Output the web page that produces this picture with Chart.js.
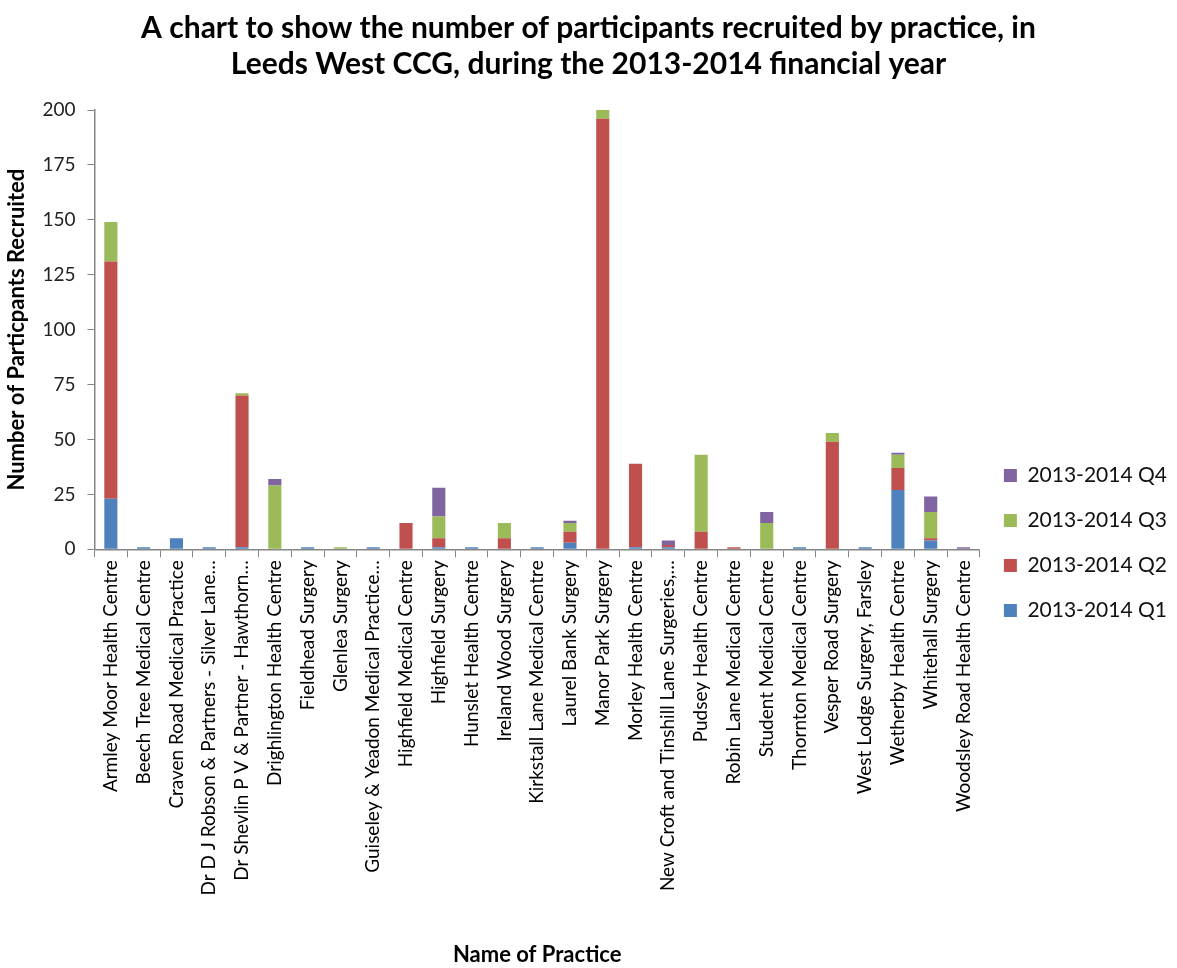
<!DOCTYPE html>
<html>
<head>
<meta charset="utf-8">
<script src="https://cdn.jsdelivr.net/npm/chart.js@4.4.0/dist/chart.umd.min.js"></script>
<style>
  html, body { margin: 0; padding: 0; background: #fff; }
  #wrap { width: 1177px; height: 968px; }
</style>
</head>
<body>
<div id="wrap"><canvas id="myChart"></canvas></div>
<script>
var practices = [
  'Armley Moor Health Centre', 'Beech Tree Medical Centre', 'Craven Road Medical Practice',
  'Dr D J Robson & Partners - Silver Lane…', 'Dr Shevlin P V & Partner - Hawthorn…',
  'Drighlington Health Centre', 'Fieldhead Surgery', 'Glenlea Surgery',
  'Guiseley & Yeadon Medical Practice…', 'Highfield Medical Centre', 'Highfield Surgery',
  'Hunslet Health Centre', 'Ireland Wood Surgery', 'Kirkstall Lane Medical Centre',
  'Laurel Bank Surgery', 'Manor Park Surgery', 'Morley Health Centre',
  'New Croft and Tinshill Lane Surgeries,…', 'Pudsey Health Centre', 'Robin Lane Medical Centre',
  'Student Medical Centre', 'Thornton Medical Centre', 'Vesper Road Surgery',
  'West Lodge Surgery, Farsley', 'Wetherby Health Centre', 'Whitehall Surgery',
  'Woodsley Road Health Centre'
];
var q1 = [23, 1, 5, 1, 1, 0, 1, 0, 1, 0, 1, 1, 0, 1, 3, 0, 1, 1, 0, 0, 0, 1, 0, 1, 27, 4, 0];
var q2 = [108, 0, 0, 0, 69, 0, 0, 0, 0, 12, 4, 0, 5, 0, 5, 196, 38, 1, 8, 1, 0, 0, 49, 0, 10, 1, 0];
var q3 = [18, 0, 0, 0, 1, 29, 0, 1, 0, 0, 10, 0, 7, 0, 4, 4, 0, 0, 35, 0, 12, 0, 4, 0, 6, 12, 0];
var q4 = [0, 0, 0, 0, 0, 3, 0, 0, 0, 0, 13, 0, 0, 0, 1, 0, 0, 2, 0, 0, 5, 0, 0, 0, 1, 7, 1];
var seriesNames = ['2013-2014 Q1', '2013-2014 Q2', '2013-2014 Q3', '2013-2014 Q4'];

var font = 'Lato, "Open Sans", sans-serif';
var axisGrey = '#868686';

var ctx = document.getElementById('myChart');
var myChart = new Chart(ctx, {
  type: 'bar',
  data: {
    labels: practices,
    datasets: [
      { label: seriesNames[0], data: q1, backgroundColor: '#4F81BD' },
      { label: seriesNames[1], data: q2, backgroundColor: '#C0504D' },
      { label: seriesNames[2], data: q3, backgroundColor: '#9BBB59' },
      { label: seriesNames[3], data: q4, backgroundColor: '#8064A2' }
    ]
  },
  options: {
    responsive: true,
    maintainAspectRatio: false,
    animation: false,
    datasets: { bar: { categoryPercentage: 1, barPercentage: 0.4 } },
    layout: { padding: { left: 0, right: 0, top: 6, bottom: 0 } },
    plugins: {
      title: {
        display: true,
        text: ['A chart to show the number of participants recruited by practice, in',
               'Leeds West CCG, during the 2013-2014 financial year'],
        font: { family: font, size: 30, weight: 'bold' },
        color: '#000',
        padding: { top: 4, bottom: 28 },
        lineHeight: 1.1
      },
      legend: {
        position: 'right',
        reverse: true,
        // empty legend title only pushes the items down, like the reference
        title: { display: true, text: '', font: { size: 10 }, padding: { top: 100, bottom: 0 } },
        labels: {
          font: { family: font, size: 21 },
          color: '#111',
          boxWidth: 13,
          boxHeight: 13,
          padding: 24
        }
      },
      tooltip: { enabled: false }
    },
    scales: {
      x: {
        stacked: true,
        border: { color: axisGrey, width: 1.5 },
        grid: { drawOnChartArea: false, color: axisGrey, tickLength: 8, offset: true },
        ticks: {
          minRotation: 90, maxRotation: 90, autoSkip: false,
          font: { family: font, size: 19 }, color: '#000'
        },
        title: {
          display: true, text: 'Name of Practice',
          font: { family: font, size: 22, weight: 'bold' }, color: '#000',
          padding: { top: 43, bottom: 0 }
        }
      },
      y: {
        stacked: true,
        min: 0, max: 200,
        border: { color: axisGrey, width: 1.5 },
        grid: { drawOnChartArea: false, color: axisGrey, tickLength: 7 },
        ticks: { stepSize: 25, font: { family: font, size: 19 }, color: '#222', padding: 12 },
        title: {
          display: true, text: 'Number of Particpants Recruited',
          font: { family: font, size: 22, weight: 'bold' }, color: '#000',
          padding: { top: 4, bottom: 0 }
        }
      }
    }
  }
});
</script>
</body>
</html>
